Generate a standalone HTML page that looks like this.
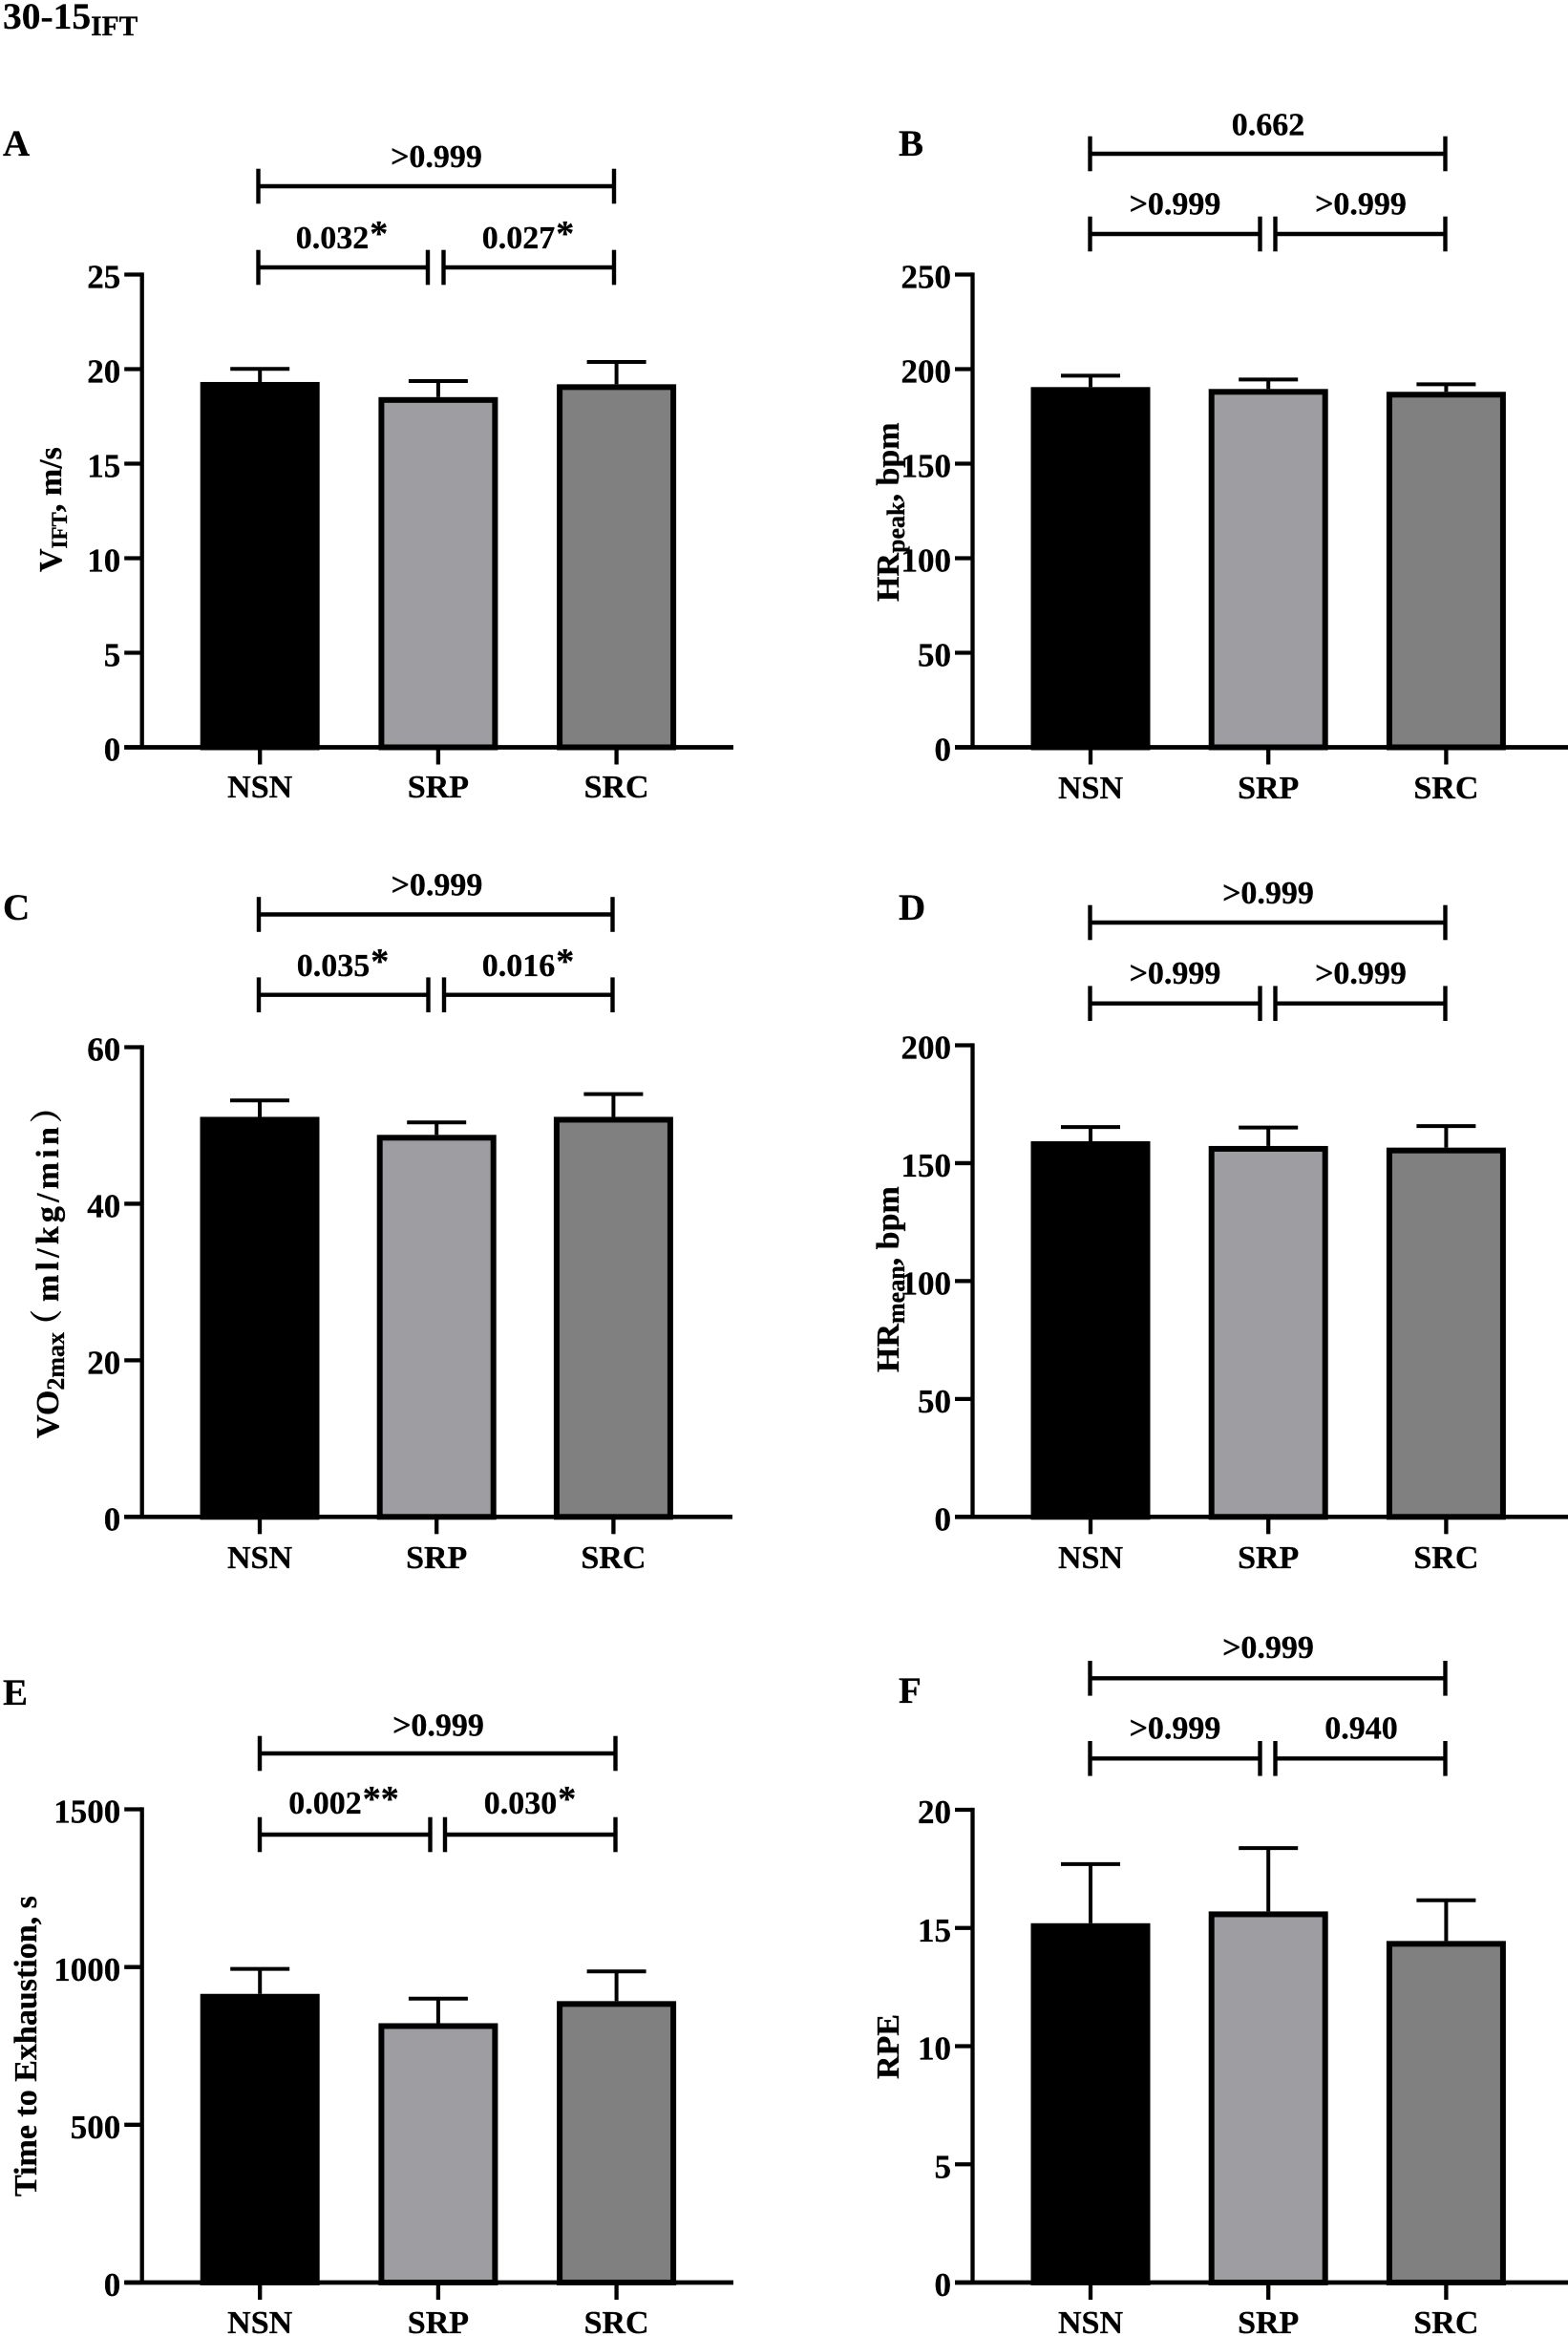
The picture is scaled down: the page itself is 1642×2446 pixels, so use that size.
<!DOCTYPE html>
<html lang="en">
<head>
<meta charset="utf-8">
<title>30-15 IFT bar charts</title>
<style>
html,body{margin:0;padding:0;background:#fff;}
svg{display:block;}
text{font-family:"Liberation Serif","Noto Serif CJK SC",serif;font-weight:bold;fill:#000;stroke:#000;stroke-width:0.3px;}
</style>
</head>
<body>
<svg id="figure" xmlns="http://www.w3.org/2000/svg" width="1642" height="2446" viewBox="0 0 1642 2446">
  <rect x="0" y="0" width="1642" height="2446" fill="#fff"/>
  <text x="3" y="30" font-size="39.5">30-15<tspan font-size="29.5" dy="7">IFT</tspan></text>
</svg>
<script>
// ---- chart data ----
const categories = ['NSN', 'SRP', 'SRC'];
const barFills = ['#000000', '#9e9ea2', '#808080'];

const ticksA = [0, 5, 10, 15, 20, 25];
const meansA = [19.32, 18.52, 19.2];
const errorsA = [0.69, 0.85, 1.18];
const pLabelsA = ['>0.999', '0.032*', '0.027*'];

const ticksB = [0, 50, 100, 150, 200, 250];
const meansB = [190.5, 189.5, 188];
const errorsB = [6, 5, 4];
const pLabelsB = ['0.662', '>0.999', '>0.999'];

const ticksC = [0, 20, 40, 60];
const meansC = [51.1, 48.8, 51.1];
const errorsC = [2.1, 1.6, 2.9];
const pLabelsC = ['>0.999', '0.035*', '0.016*'];

const ticksD = [0, 50, 100, 150, 200];
const meansD = [159.3, 157.3, 156.6];
const errorsD = [6, 7.8, 9.1];
const pLabelsD = ['>0.999', '>0.999', '>0.999'];

const ticksE = [0, 500, 1000, 1500];
const meansE = [915, 822, 892];
const errorsE = [79, 78, 94];
const pLabelsE = ['>0.999', '0.002**', '0.030*'];

const ticksF = [0, 5, 10, 15, 20];
const meansF = [15.2, 15.7, 14.45];
const errorsF = [2.5, 2.68, 1.72];
const pLabelsF = ['>0.999', '>0.999', '0.940'];

// ---- panel layout ----
const panels = [
  { id:'a', letter:'A', lx:3, ly:163, ticks:ticksA, means:meansA, errors:errorsA, p:pLabelsA,
    ax:148.7, top:287.5, base:782.5, right:768, x0:272.2, step:186.7,
    br:{ y1:195, y2:280, l:270.5, m1:448, m2:464.5, r:643, lab1:[457,164], lab2:[358,249], lab3:[553,249] },
    title:{ x:64, y:599, sub:23, parts:[['V',0],['IFT',1],[', m/s',0]] }, catY:823.5 },
  { id:'b', letter:'B', lx:941, ly:163, ticks:ticksB, means:meansB, errors:errorsB, p:pLabelsB,
    ax:1018.5, top:287.5, base:782.5, right:1642, x0:1142, step:186.2,
    br:{ y1:161, y2:245, l:1141.5, m1:1319.5, m2:1335.5, r:1513.5, lab1:[1328,130.5], lab2:[1230.5,213.7], lab3:[1425,213.7] },
    title:{ x:941, y:630, sub:26, parts:[['HR',0],['peak',1],[', bpm',0]] }, catY:824.5 },
  { id:'c', letter:'C', lx:3, ly:963, ticks:ticksC, means:meansC, errors:errorsC, p:pLabelsC,
    ax:148.7, top:1096.5, base:1588.3, right:767, x0:272, step:185.2,
    br:{ y1:957.5, y2:1041.7, l:271, m1:448.5, m2:465, r:641.5, lab1:[457.5,926.4], lab2:[359,1010.8], lab3:[553,1010.8] },
    title:{ x:61, y:1506, sub:26, parts:[['VO',0],['2max',1],['\uFF08',0,{dx:-10}],['ml/kg/min',0,{dx:8,'letter-spacing':4.2}],['\uFF09',0]] }, catY:1630.5 },
  { id:'d', letter:'D', lx:941, ly:963, ticks:ticksD, means:meansD, errors:errorsD, p:pLabelsD,
    ax:1018.5, top:1094.5, base:1588.3, right:1642, x0:1142, step:186.2,
    br:{ y1:966, y2:1050.7, l:1141.5, m1:1319.5, m2:1335.5, r:1513.5, lab1:[1328,935], lab2:[1230.5,1019], lab3:[1425,1019] },
    title:{ x:941, y:1437, sub:26, parts:[['HR',0],['mean',1],[', bpm',0]] }, catY:1630.5 },
  { id:'e', letter:'E', lx:3, ly:1785, ticks:ticksE, means:meansE, errors:errorsE, p:pLabelsE,
    ax:148.7, top:1894.5, base:2390, right:768, x0:272.2, step:186.7,
    br:{ y1:1836, y2:1921, l:272, m1:450.5, m2:466, r:644.5, lab1:[459,1806.7], lab2:[360,1888], lab3:[555,1888] },
    title:{ x:38, y:2300, sub:24, parts:[['Time to Exhaustion, s',0]] }, catY:2431.5 },
  { id:'f', letter:'F', lx:941, ly:1783, ticks:ticksF, means:meansF, errors:errorsF, p:pLabelsF,
    ax:1018.5, top:1895, base:2390, right:1642, x0:1142, step:186.2,
    br:{ y1:1757.3, y2:1841.3, l:1141.5, m1:1319.5, m2:1335.5, r:1513.5, lab1:[1328,1725], lab2:[1230.5,1809.7], lab3:[1425.5,1809.7] },
    title:{ x:941, y:2177, sub:24, parts:[['RPE',0]] }, catY:2431.5 }
];

const SVG_NS = 'http://www.w3.org/2000/svg';
const svg = document.getElementById('figure');
const BAR_W = 125, BORDER = 6, CAP_W = 62, STEM_W = 4, AXIS_W = 4.3, BASE_W = 4.7, TICK_LEN = 18.5, BR_W = 4.4, BR_H = 18.3;
const TICK_FONT = 35, LABEL_FONT = 34;

function mk(tag, parent, props, text) {
  const el = document.createElementNS(SVG_NS, tag);
  for (const k in props) el.setAttribute(k, props[k]);
  if (text !== undefined) el.textContent = text;
  parent.appendChild(el);
  return el;
}
function lineProps(x1, y1, x2, y2, w) {
  return { x1:x1, y1:y1, x2:x2, y2:y2, stroke:'#000', 'stroke-width':w };
}

panels.forEach(function (p) {
  const yMax = p.ticks[p.ticks.length - 1];
  const yScale = function (v) { return p.base - (v / yMax) * (p.base - p.top); };
  const xScale = function (i) { return p.x0 + i * p.step; };

  const g = mk('g', svg, {});
  
  

  const letter = mk('text', g, { x:p.lx, y:p.ly, 'font-size':39 }, p.letter);
  
  

  // error bars (behind the bars)
  categories.forEach(function (c, i) {
    const cx = xScale(i);
    const topY = yScale(p.means[i] + p.errors[i]);
    const eg = mk('g', g, {});
    
    
    mk('line', eg, lineProps(cx, topY, cx, yScale(p.means[i]), STEM_W));
    mk('line', eg, lineProps(cx - CAP_W / 2, topY, cx + CAP_W / 2, topY, STEM_W));
  });

  // bars
  categories.forEach(function (c, i) {
    const cx = xScale(i);
    const topY = yScale(p.means[i]);
    const bar = mk('rect', g, {
      x: cx - BAR_W / 2 + BORDER / 2,
      y: topY + BORDER / 2,
      width: BAR_W - BORDER,
      height: p.base - topY - BORDER / 2,
      fill: barFills[i], stroke:'#000', 'stroke-width':BORDER
    });
    
    
  });

  // axes
  const yAxis = mk('line', g, lineProps(p.ax, p.top - AXIS_W / 2, p.ax, p.base, AXIS_W));
  
  
  const xAxis = mk('line', g, lineProps(p.ax - TICK_LEN, p.base, p.right, p.base, BASE_W));
  
  

  p.ticks.forEach(function (t) {
    const y = yScale(t);
    const tick = mk('line', g, lineProps(p.ax - TICK_LEN, y, p.ax, y, AXIS_W));
    
    
    const lab = mk('text', g, { x:p.ax - 22.5, y:y + 14.2, 'font-size':TICK_FONT, 'text-anchor':'end' }, String(t));
    
    
  });

  categories.forEach(function (c, i) {
    const x = xScale(i);
    const tick = mk('line', g, lineProps(x, p.base, x, p.base + 18, AXIS_W));
    
    
    const lab = mk('text', g, { x:x, y:p.catY + 11.5, 'font-size':LABEL_FONT, 'text-anchor':'middle' }, c);
    
    
  });

  // y-axis title
  const title = mk('text', g, {
    transform: 'translate(' + p.title.x + ' ' + p.title.y + ') rotate(-90)',
    x:0, y:0, 'font-size':34
  });
  
  
  let prevSub = 0;
  p.title.parts.forEach(function (part) {
    const props = { 'font-size': part[1] ? p.title.sub : 34 };
    if (part[1] !== prevSub) props.dy = part[1] ? 6 : -6;
    prevSub = part[1];
    const extra = part[2] || {};
    for (const k in extra) props[k] = extra[k];
    mk('tspan', title, props, part[0]);
  });

  // significance brackets
  const b = p.br;
  const spans = [[b.l, b.r, b.y1], [b.l, b.m1, b.y2], [b.m2, b.r, b.y2]];
  const labs = [b.lab1, b.lab2, b.lab3];
  spans.forEach(function (s, i) {
    const bg = mk('g', g, {});
    
    
    mk('line', bg, lineProps(s[0], s[2], s[1], s[2], BR_W));
    mk('line', bg, lineProps(s[0], s[2] - BR_H, s[0], s[2] + BR_H, BR_W));
    mk('line', bg, lineProps(s[1], s[2] - BR_H, s[1], s[2] + BR_H, BR_W));
    const lab = mk('text', g, { x:labs[i][0], y:labs[i][1] + 11, 'font-size':LABEL_FONT, 'text-anchor':'middle' });
    
    
    const str = p.p[i];
    const starAt = str.indexOf('*');
    if (starAt < 0) {
      lab.textContent = str;
    } else {
      mk('tspan', lab, {}, str.slice(0, starAt));
      mk('tspan', lab, { 'font-size':38, dy:-3, dx:1 }, str.slice(starAt));
    }
  });
});
</script>
</body>
</html>
